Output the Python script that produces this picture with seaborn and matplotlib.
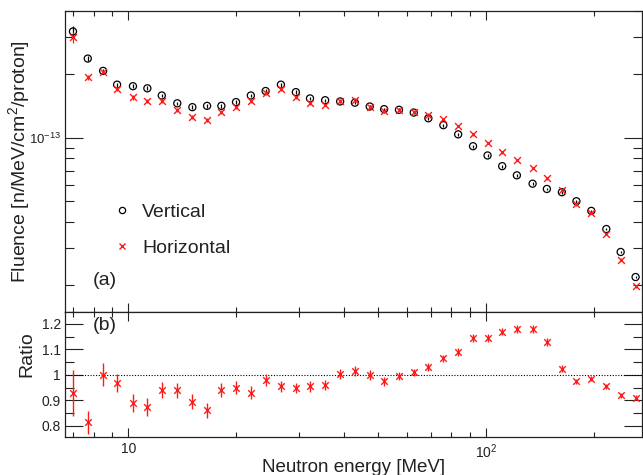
import numpy as np
import pandas as pd
import matplotlib
matplotlib.use("Agg")
import matplotlib.pyplot as plt
import matplotlib.ticker as mticker
from matplotlib.lines import Line2D
import seaborn as sns

# ---------------- data ----------------
energy = [7.0, 7.7, 8.5, 9.3, 10.3, 11.3, 12.4, 13.7, 15.1, 16.6, 18.2, 20.0, 22.0,
          24.2, 26.7, 29.4, 32.2, 35.5, 39.1, 43.0, 47.3, 51.9, 57.1, 62.8, 69.0,
          76.0, 83.6, 92.0, 101, 111, 122, 135, 148, 163, 179, 197, 217, 238, 262]

vertical = [3.20e-13, 2.38e-13, 2.08e-13, 1.79e-13, 1.76e-13, 1.72e-13, 1.59e-13,
            1.46e-13, 1.40e-13, 1.42e-13, 1.42e-13, 1.48e-13, 1.59e-13, 1.67e-13,
            1.79e-13, 1.65e-13, 1.54e-13, 1.51e-13, 1.49e-13, 1.47e-13, 1.41e-13,
            1.37e-13, 1.36e-13, 1.32e-13, 1.24e-13, 1.15e-13, 1.04e-13, 9.14e-14,
            8.26e-14, 7.35e-14, 6.65e-14, 6.07e-14, 5.73e-14, 5.53e-14, 5.01e-14,
            4.51e-14, 3.70e-14, 2.88e-14, 2.19e-14]

horizontal = [3.00e-13, 1.94e-13, 2.06e-13, 1.71e-13, 1.56e-13, 1.50e-13, 1.50e-13,
              1.36e-13, 1.26e-13, 1.22e-13, 1.33e-13, 1.40e-13, 1.49e-13, 1.63e-13,
              1.70e-13, 1.57e-13, 1.46e-13, 1.44e-13, 1.50e-13, 1.51e-13, 1.41e-13,
              1.34e-13, 1.36e-13, 1.33e-13, 1.29e-13, 1.23e-13, 1.14e-13, 1.04e-13,
              9.47e-14, 8.56e-14, 7.87e-14, 7.20e-14, 6.45e-14, 5.67e-14, 4.85e-14,
              4.43e-14, 3.51e-14, 2.65e-14, 1.98e-14]

vertical_relerr = [0.06, 0.025, 0.02, 0.02, 0.02, 0.02, 0.02, 0.02, 0.02, 0.02,
                   0.02, 0.02, 0.02, 0.02, 0.02, 0.02, 0.015, 0.015, 0.015, 0.015,
                   0.015, 0.015, 0.015, 0.015, 0.015, 0.015, 0.015, 0.015, 0.015,
                   0.015, 0.015, 0.015, 0.015, 0.015, 0.015, 0.015, 0.015, 0.015, 0.015]
horizontal_relerr = [0.06, 0.03, 0.025, 0.02, 0.025, 0.02, 0.02, 0.02, 0.02, 0.02,
                     0.02, 0.02, 0.02, 0.02, 0.02, 0.02, 0.015, 0.015, 0.015, 0.015,
                     0.015, 0.015, 0.015, 0.015, 0.015, 0.015, 0.015, 0.015, 0.015,
                     0.015, 0.015, 0.015, 0.015, 0.015, 0.015, 0.015, 0.015, 0.015, 0.015]

ratio = [0.93, 0.815, 1.0, 0.97, 0.89, 0.875, 0.94, 0.94, 0.895, 0.862, 0.94, 0.95,
         0.93, 0.98, 0.955, 0.95, 0.955, 0.96, 1.005, 1.015, 1.0, 0.975, 0.995, 1.01,
         1.03, 1.065, 1.09, 1.145, 1.145, 1.17, 1.18, 1.18, 1.13, 1.025, 0.975, 0.985,
         0.955, 0.92, 0.91]
ratio_err = [0.09, 0.045, 0.045, 0.035, 0.037, 0.034, 0.032, 0.03, 0.03, 0.03, 0.028,
             0.025, 0.025, 0.023, 0.022, 0.02, 0.02, 0.02, 0.02, 0.02, 0.018, 0.017,
             0.015, 0.015, 0.015, 0.015, 0.015, 0.015, 0.015, 0.015, 0.015, 0.015,
             0.015, 0.013, 0.01, 0.01, 0.01, 0.01, 0.01]

series_labels = ["Vertical", "Horizontal"]
x_major_ticks = [10, 100]
x_major_labels = ["10", r"$10^{2}$"]
ratio_ticks = [0.8, 0.9, 1.0, 1.1, 1.2]
ratio_tick_labels = ["0.8", "0.9", "1", "1.1", "1.2"]

# ---------------- style ----------------
sns.set_theme(style="ticks")
plt.rcParams["font.family"] = ["Liberation Sans", "DejaVu Sans"]
plt.rcParams["mathtext.fontset"] = "custom"
plt.rcParams["mathtext.rm"] = "Liberation Sans"
plt.rcParams["mathtext.it"] = "Liberation Sans:italic"
plt.rcParams["mathtext.bf"] = "Liberation Sans:bold"

RED = "#ff1a1a"
FRAME = "#222222"
TEXT = "#222222"

df = pd.DataFrame({"energy": energy, "Vertical": vertical, "Horizontal": horizontal,
                   "v_err": np.array(vertical) * np.array(vertical_relerr),
                   "h_err": np.array(horizontal) * np.array(horizontal_relerr),
                   "ratio": ratio, "ratio_err": ratio_err})

fig = plt.figure(figsize=(6.43, 4.75), dpi=100)
ax1 = fig.add_axes([0.1011, 0.3438, 0.8973, 0.6330])
ax2 = fig.add_axes([0.1011, 0.0806, 0.8973, 0.2632], sharex=ax1)

# top panel
ax1.errorbar(df["energy"], df["Vertical"], yerr=df["v_err"], fmt="none",
             ecolor="black", elinewidth=0.9, capsize=0)
ax1.errorbar(df["energy"], df["Horizontal"], yerr=df["h_err"], fmt="none",
             ecolor=RED, elinewidth=0.9, capsize=0)
sns.scatterplot(data=df, x="energy", y="Vertical", ax=ax1, marker="o", s=26,
                color="black", facecolor="none", edgecolor="black", linewidth=0.9,
                zorder=3)
sns.scatterplot(data=df, x="energy", y="Horizontal", ax=ax1, marker="x", s=24,
                color=RED, linewidth=1.0, zorder=3)

ax1.set_xscale("log")
ax1.set_yscale("log")
ax1.set_xlim(6.65, 273)
ax1.set_ylim(1.5e-14, 4.0e-13)
ax1.set_xlabel("")
ax1.set_ylabel(r"Fluence [n/MeV/cm$^{2}$/proton]", fontsize=14, color=TEXT)
ax1.yaxis.set_label_coords(-0.058, 0.5)

ax1.yaxis.set_major_locator(mticker.FixedLocator([1e-13]))
ax1.yaxis.set_major_formatter(mticker.FixedFormatter([r"$10^{-13}$"]))
ax1.yaxis.set_minor_locator(mticker.LogLocator(base=10, subs=np.arange(2, 10)))
ax1.yaxis.set_minor_formatter(mticker.NullFormatter())

for ax in (ax1, ax2):
    ax.xaxis.set_major_locator(mticker.FixedLocator(x_major_ticks))
    ax.xaxis.set_minor_locator(mticker.LogLocator(base=10, subs=np.arange(2, 10)))
    ax.xaxis.set_minor_formatter(mticker.NullFormatter())
    ax.tick_params(which="both", direction="in", top=True, right=True,
                   color=FRAME, width=0.8, labelcolor=TEXT)
    for sp in ax.spines.values():
        sp.set_color(FRAME)
        sp.set_linewidth(0.9)
    ax.tick_params(axis="x", which="major", length=6.5)
    ax.tick_params(axis="x", which="minor", length=3.3)
    ax.tick_params(axis="y", which="major", length=13)
    ax.tick_params(axis="y", which="minor", length=6.5)

ax1.tick_params(axis="x", which="both", labelbottom=False)
ax1.tick_params(axis="y", labelsize=9.5, pad=3)

leg_handles = [Line2D([], [], ls="", marker="o", mfc="none", mec="black", ms=4.5, mew=0.9),
               Line2D([], [], ls="", marker="x", color=RED, ms=4.5, mew=1.0)]
leg = ax1.legend(leg_handles, series_labels, loc="upper left",
                 bbox_to_anchor=(0.065, 0.392), frameon=False, fontsize=14,
                 handlelength=1.0, handletextpad=0.55, labelspacing=0.95,
                 borderpad=0.0)
for t in leg.get_texts():
    t.set_color(TEXT)
ax1.text(0.048, 0.105, "(a)", transform=ax1.transAxes, fontsize=14,
         ha="left", va="center", color=TEXT)

# ratio panel
ax2.errorbar(df["energy"], df["ratio"], yerr=df["ratio_err"], fmt="none",
             ecolor=RED, elinewidth=1.0, capsize=0)
sns.scatterplot(data=df, x="energy", y="ratio", ax=ax2, marker="x", s=22,
                color=RED, linewidth=1.0, zorder=3)
ax2.axhline(1.0, ls=(0, (1, 1.5)), color="black", lw=0.8, zorder=1)
ax2.set_ylim(0.758, 1.248)
ax2.set_xlim(6.65, 273)
ax2.yaxis.set_major_locator(mticker.FixedLocator(ratio_ticks))
ax2.yaxis.set_major_formatter(mticker.FixedFormatter(ratio_tick_labels))
ax2.yaxis.set_minor_locator(mticker.MultipleLocator(0.05))
ax2.xaxis.set_major_formatter(mticker.FixedFormatter(x_major_labels))
ax2.tick_params(axis="x", labelsize=10, pad=4)
ax2.tick_params(axis="y", labelsize=10, pad=3)
ax2.set_ylabel("Ratio", fontsize=14, color=TEXT)
ax2.yaxis.set_label_coords(-0.052, 0.66)
ax2.set_xlabel("Neutron energy [MeV]", fontsize=13.5, labelpad=-1, color=TEXT)
ax2.text(0.048, 0.89, "(b)", transform=ax2.transAxes, fontsize=14,
         ha="left", va="center", color=TEXT)

fig.savefig("out.png", dpi=100)
